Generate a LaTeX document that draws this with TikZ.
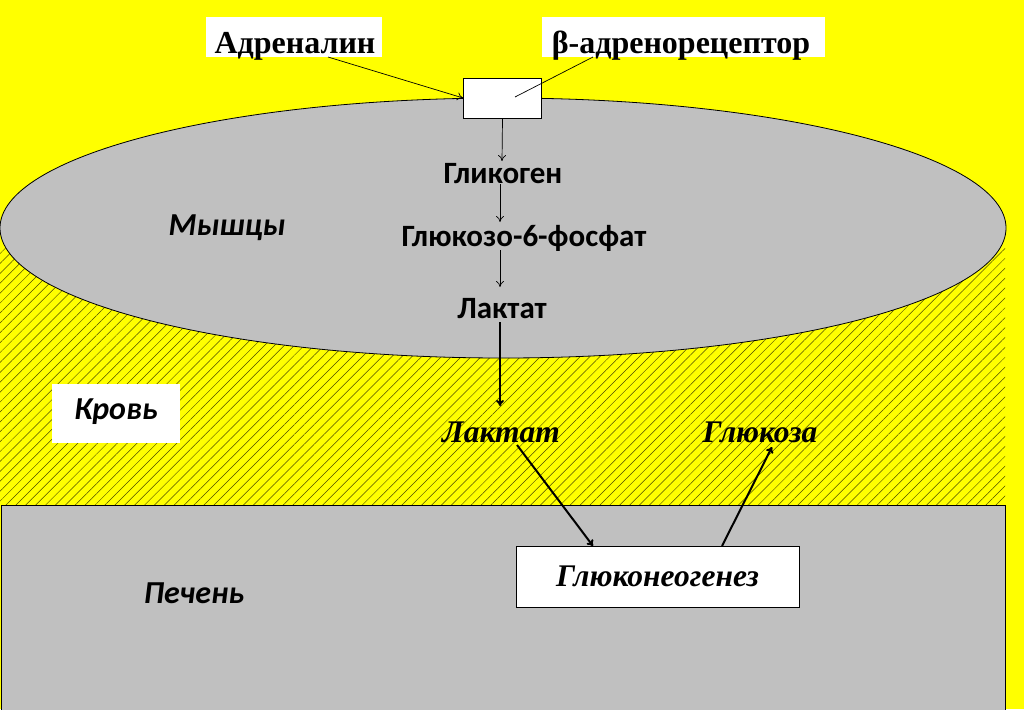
\documentclass[tikz,border=0pt]{standalone}
\usepackage{fontspec}
\setmainfont{Liberation Serif}
\newfontfamily\calfont{Carlito}
\usetikzlibrary{arrows.meta,patterns.meta}
\definecolor{yel}{HTML}{FFFF00}
\definecolor{gr}{HTML}{C0C0C0}
\tikzset{
  whitebox/.style={fill=white,inner sep=0pt},
  serlab/.style={font=\fontsize{32}{34}\selectfont\bfseries,inner sep=0pt,anchor=base},
  sanslab/.style={font=\calfont\fontsize{31}{33}\selectfont\bfseries,inner sep=1pt},
  itlab/.style={font=\fontsize{31.5}{34}\selectfont\bfseries\itshape,inner sep=1pt},
  regionlab/.style={font=\calfont\fontsize{32}{34}\selectfont\bfseries\itshape,inner sep=1pt},
  thinarr/.style={-{To[length=6pt,width=8pt]},line width=0.7pt},
  thickarr/.style={-{To[length=6pt,width=8pt]},line width=2pt},
}
\begin{document}
\begin{tikzpicture}[x=1pt,y=-1pt]
\useasboundingbox (0,0) rectangle (1024,709);
\fill[yel] (0,0) rectangle (1024,709);
\fill[pattern={Lines[angle=45,distance=7pt,line width=0.5pt]},pattern color=black!70!yel] (0,245) rectangle (1005,505);
\draw[fill=gr,line width=0.8pt] (503,228) ellipse [x radius=503, y radius=130];
\draw[fill=gr,line width=0.8pt] (1,505) rectangle (1005,715);

\node[whitebox,minimum width=176pt,minimum height=40pt] (adrbox) at (294,37) {};
\node[serlab] (adr) at (295,53) {Адреналин};
\node[whitebox,minimum width=283pt,minimum height=40pt] (betabox) at (683.5,37) {};
\node[serlab] (beta) at (681,53) {β-адренорецептор};
\node[draw,fill=white,line width=0.8pt,minimum width=78pt,minimum height=40pt,inner sep=0pt] (rec) at (502.5,98.5) {};
\coordinate (recin) at (515,97);

\node[sanslab] (gly) at (503,174) {Гликоген};
\node[sanslab] (g6p) at (524,238) {Глюкозо-6-фосфат};
\node[sanslab] (lac1) at (502,309) {Лактат};

\node[itlab] (lac2) at (501,432) {Лактат};
\node[itlab] (glc) at (760,432) {Глюкоза};
\node[draw,fill=white,line width=0.8pt,minimum width=283pt,minimum height=61pt,inner sep=0pt,font=\fontsize{31.5}{34}\selectfont\bfseries\itshape] (gng) at (657.5,576.5) {Глюконеогенез};

\node[regionlab] (mus) at (227,228) {Мышцы};
\node[whitebox,minimum width=128pt,minimum height=59pt] (kbox) at (116,413.5) {};
\node[regionlab] (krov) at (116,412) {Кровь};
\node[regionlab] (liv) at (194,593) {Печень};

\draw[thinarr] (328,57) -- (rec.west |- 0,98);
\draw[line width=0.7pt] (recin) -- (593,57);
\draw[thinarr] (rec.south) -- (502,161);
\draw[thinarr] (500,184) -- (500,222);
\draw[thinarr] (500,250) -- (500,287);
\draw[thickarr] (500,322) -- (500,406);
\draw[thickarr] (517,445) -- (593,546);
\draw[thickarr] (722,546) -- (772,447);
\end{tikzpicture}
\end{document}
